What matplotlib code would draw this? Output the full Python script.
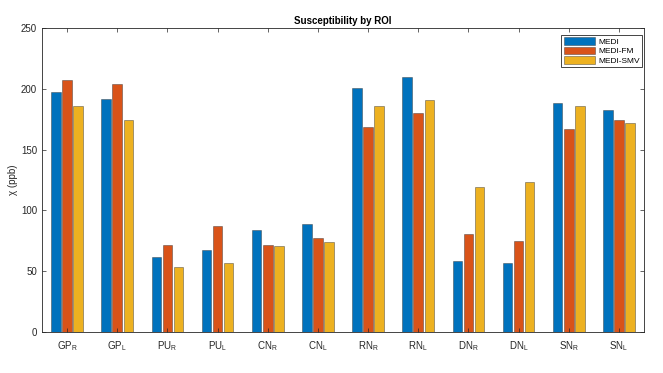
import matplotlib
matplotlib.use("Agg")
import matplotlib.pyplot as plt
import numpy as np

plt.rcParams['font.family'] = ['Liberation Sans', 'DejaVu Sans']

regions = ["GP", "GP", "PU", "PU", "CN", "CN", "RN", "RN", "DN", "DN", "SN", "SN"]
sides = ["R", "L", "R", "L", "R", "L", "R", "L", "R", "L", "R", "L"]
series_names = ["MEDI", "MEDI-FM", "MEDI-SMV"]
medi = [197.5, 191.5, 61.7, 67.8, 83.9, 88.8, 200.6, 209.5, 58.5, 57.0, 188.0, 182.7]
medi_fm = [207.0, 204.0, 71.3, 87.5, 71.9, 77.3, 168.3, 180.1, 80.3, 74.5, 166.9, 174.7]
medi_smv = [186.0, 174.0, 53.8, 56.8, 70.7, 74.3, 185.8, 190.5, 119.1, 123.5, 185.7, 172.0]
yticks = [0, 50, 100, 150, 200, 250]

colors = ["#0072BD", "#D95319", "#EDB120"]

fig = plt.figure(figsize=(6.63, 3.73), dpi=100)
ax = fig.add_axes([42/663, 41/373, 602/663, 304/373])

x = np.arange(1, len(regions) + 1)
offsets = [-0.22, 0.0, 0.22]
width = 0.19
for vals, off, c, name in zip([medi, medi_fm, medi_smv], offsets, colors, series_names):
    ax.bar(x + off, vals, width, color=c, edgecolor=(0.2, 0.2, 0.2, 0.6), linewidth=0.5, label=name)

ax.set_xlim(0.5, 12.5)
ax.set_ylim(0, 250)
ax.set_yticks(yticks)
ax.set_xticks(x)
ax.set_xticklabels([f"{r}$_\\mathregular{{{s}}}$" for r, s in zip(regions, sides)], fontsize=7, color="#262626")
ax.tick_params(axis='y', labelsize=7, labelcolor="#262626")
ax.tick_params(direction='in', length=3, width=0.5, color="#262626", top=True, right=True)
ax.tick_params(axis='x', pad=5)
for s in ax.spines.values():
    s.set_linewidth(0.6)
    s.set_color("#262626")

ax.set_ylabel("χ (ppb)", fontsize=7, color="#262626")
ax.yaxis.set_label_coords(-24/602, 0.5)
ax.set_title("Susceptibility by ROI", fontsize=7, fontweight='bold', pad=3)

leg = ax.legend(loc='upper right', fontsize=6, handlelength=3.8, handleheight=1.0,
                handletextpad=0.3, borderpad=0.3, labelspacing=0.1, fancybox=False,
                framealpha=1, edgecolor="#262626", borderaxespad=0,
                bbox_to_anchor=(0.9967, 0.977))
leg.get_frame().set_linewidth(0.6)

fig.savefig("out.png", dpi=100)
